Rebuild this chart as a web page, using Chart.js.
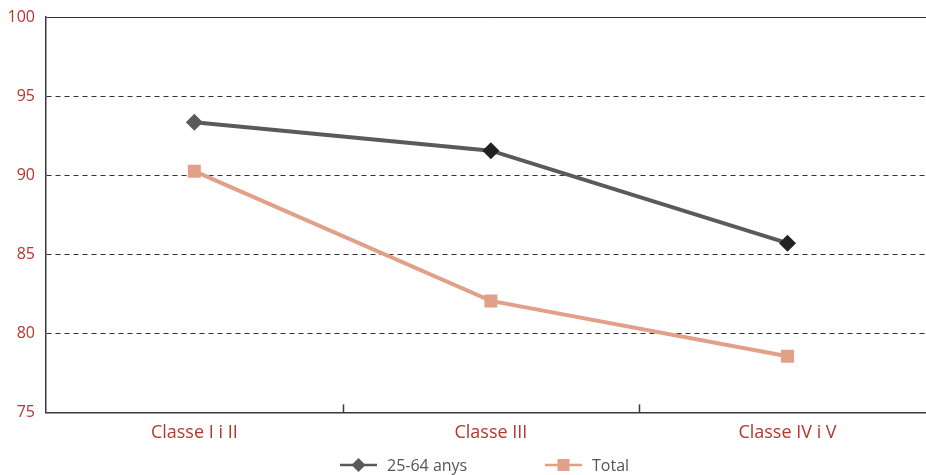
<!DOCTYPE html>
<html lang="ca">

<head>
    <meta charset="UTF-8">
    <title>Classe social</title>
    <script src="https://cdn.jsdelivr.net/npm/chart.js@4.4.0/dist/chart.umd.min.js"></script>
    <style>
        body {
            margin: 0;
            overflow: hidden;
            background: #fff;
        }

        #wrap {
            width: 945px;
            height: 475px;
        }
    </style>
</head>

<body>
    <div id="wrap">
        <canvas id="chart"></canvas>
    </div>
    <script>
        // data
        const categories = ['Classe I i II', 'Classe III', 'Classe IV i V'];
        const adults = [93.35, 91.55, 85.7];   // 25-64 anys
        const total = [90.25, 82.05, 78.55];   // Total
        const yTicks = [75, 80, 85, 90, 95, 100];

        const red = '#b8352e';
        const dark = '#5a5a5a';
        const salmon = '#e2a088';
        const font = "'Open Sans', sans-serif";

        // tick marks between categories, pointing up into the plot
        const innerTicks = {
            id: 'innerTicks',
            afterDatasetsDraw(chart) {
                const x = chart.scales.x, area = chart.chartArea, ctx = chart.ctx;
                ctx.save();
                ctx.strokeStyle = '#3a3a3a';
                ctx.lineWidth = 1.5;
                for (let i = 1; i < categories.length; i++) {
                    const px = Math.round((x.getPixelForValue(i - 1) + x.getPixelForValue(i)) / 2) + 0.5;
                    ctx.beginPath();
                    ctx.moveTo(px, area.bottom);
                    ctx.lineTo(px, area.bottom - 8);
                    ctx.stroke();
                }
                ctx.restore();
            }
        };

        // legend: line with marker, then label
        const lineLegend = {
            id: 'lineLegend',
            afterDraw(chart) {
                const ctx = chart.ctx;
                const y = 465;
                let x = 340;
                ctx.save();
                ctx.font = '16px ' + font;
                ctx.textBaseline = 'middle';
                chart.data.datasets.forEach(ds => {
                    ctx.strokeStyle = ds.borderColor;
                    ctx.lineWidth = 2.5;
                    ctx.beginPath();
                    ctx.moveTo(x, y);
                    ctx.lineTo(x + 37, y);
                    ctx.stroke();
                    ctx.fillStyle = ds.borderColor;
                    const cx = x + 18.5;
                    ctx.beginPath();
                    if (ds.pointStyle === 'rectRot') {
                        ctx.moveTo(cx, y - 7);
                        ctx.lineTo(cx + 7, y);
                        ctx.lineTo(cx, y + 7);
                        ctx.lineTo(cx - 7, y);
                        ctx.closePath();
                    } else {
                        ctx.rect(cx - 6, y - 6, 12, 12);
                    }
                    ctx.fill();
                    ctx.fillStyle = '#555';
                    ctx.fillText(ds.label, x + 47, y + 1);
                    x += 205;
                });
                ctx.restore();
            }
        };

        new Chart(document.getElementById('chart'), {
            type: 'line',
            data: {
                labels: categories,
                datasets: [{
                    label: '25-64 anys',
                    data: adults,
                    borderColor: dark,
                    borderWidth: 4,
                    pointStyle: 'rectRot',
                    pointRadius: 8.5,
                    pointHoverRadius: 8.5,
                    pointBackgroundColor: [dark, '#222', '#222'],
                    pointBorderWidth: 0
                }, {
                    label: 'Total',
                    data: total,
                    borderColor: salmon,
                    borderWidth: 4,
                    pointStyle: 'rect',
                    pointRadius: 9.2,
                    pointHoverRadius: 9.2,
                    pointBackgroundColor: salmon,
                    pointBorderWidth: 0
                }]
            },
            options: {
                responsive: true,
                maintainAspectRatio: false,
                animation: false,
                layout: { padding: { top: 17, left: 6, right: 0, bottom: 21 } },
                plugins: {
                    legend: { display: false },
                    tooltip: { enabled: false }
                },
                scales: {
                    x: {
                        offset: true,
                        grid: { drawOnChartArea: false, drawTicks: false },
                        border: { color: '#3a3a3a', width: 1.5 },
                        ticks: { color: red, font: { family: font, size: 18 }, padding: 10 }
                    },
                    y: {
                        min: 75,
                        max: 100,
                        afterBuildTicks(scale) {
                            scale.ticks = yTicks.map(v => ({ value: v }));
                        },
                        afterFit(scale) {
                            scale.width = 40;
                            scale.paddingTop = 0;
                            scale.paddingBottom = 0;
                        },
                        grid: {
                            drawTicks: false,
                            color: '#333',
                            lineWidth: 1
                        },
                        border: {
                            color: '#3a3a3a',
                            width: 1.5,
                            dash: ctx => (ctx.tick && ctx.tick.value === 100 ? [] : [5, 4])
                        },
                        ticks: { color: red, font: { family: font, size: 16 }, padding: 11 }
                    }
                }
            },
            plugins: [innerTicks, lineLegend]
        });
    </script>
</body>

</html>
